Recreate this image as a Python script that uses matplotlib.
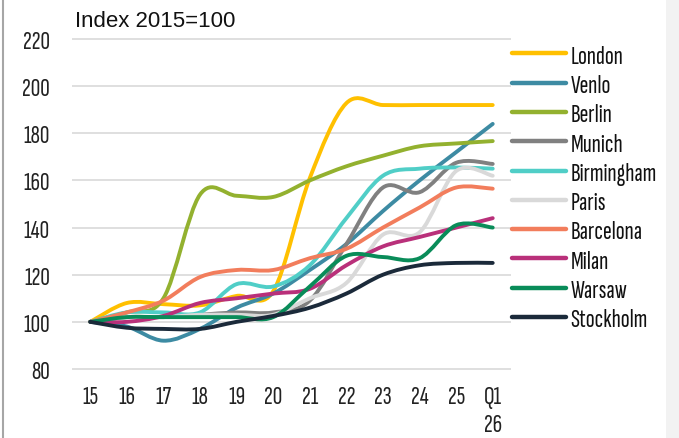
import matplotlib
matplotlib.use('Agg')
import matplotlib.pyplot as plt
from matplotlib.path import Path
from matplotlib.patches import PathPatch, Rectangle
from matplotlib.lines import Line2D

# x categories (2015 .. 2025, Q1 2026)
periods = ['15', '16', '17', '18', '19', '20', '21', '22', '23', '24', '25', 'Q1\n26']

# index values, 2015 = 100
london     = [100, 108, 107.5, 107, 111, 113, 161, 192.8, 192, 192, 192, 192]
venlo      = [100, 98, 92, 97, 106, 112, 122, 133, 147, 160, 172, 184]
berlin     = [100, 104, 110, 154, 153.5, 153, 160, 166, 170.5, 174.5, 175.7, 176.7]
munich     = [100, 102, 102, 103, 104, 104, 109, 133, 157, 155, 167.5, 167]
birmingham = [100, 104, 104, 104, 116, 115, 124, 144, 162, 165, 165.5, 165]
paris      = [100, 102, 102, 103, 103, 103, 110, 116.5, 137, 138, 164, 162]
barcelona  = [100, 104, 109, 119, 122, 122, 127, 131, 140, 148.5, 157, 156.5]
milan      = [100, 100, 102.5, 108, 110, 112, 114, 124, 132, 136, 140, 144]
warsaw     = [100, 102, 102, 102, 102, 102, 115, 128, 127.5, 127, 141, 140]
stockholm  = [100, 97.5, 97, 97, 100, 102.5, 106, 112, 120, 124, 125, 125]

names = ['London', 'Venlo', 'Berlin', 'Munich', 'Birmingham', 'Paris',
         'Barcelona', 'Milan', 'Warsaw', 'Stockholm']
series = [london, venlo, berlin, munich, birmingham, paris,
          barcelona, milan, warsaw, stockholm]
colors = ['#FFC000', '#3D8BA3', '#93B12F', '#808080', '#50CEC7', '#D9D9D9',
          '#F27D5C', '#B9307A', '#098C59', '#1B2A3A']

narrow = ['Sofia Sans Extra Condensed', 'Pathway Gothic One', 'DejaVu Sans']
plain = ['Arimo', 'Liberation Sans', 'DejaVu Sans']
FS = 19


def smooth_path(xs, ys):
  # excel-like smoothed line: cubic bezier through the points (catmull-rom)
  pts = list(zip(xs, ys))
  n = len(pts)
  verts = [pts[0]]
  codes = [Path.MOVETO]
  for i in range(n - 1):
    p0 = pts[i - 1] if i > 0 else pts[i]
    p1 = pts[i]
    p2 = pts[i + 1]
    p3 = pts[i + 2] if i + 2 < n else pts[i + 1]
    c1 = (p1[0] + (p2[0] - p0[0]) / 6.0, p1[1] + (p2[1] - p0[1]) / 6.0)
    c2 = (p2[0] - (p3[0] - p1[0]) / 6.0, p2[1] - (p3[1] - p1[1]) / 6.0)
    verts += [c1, c2, p2]
    codes += [Path.CURVE4] * 3
  return Path(verts, codes)


fig = plt.figure(figsize=(6.79, 4.39), dpi=100)
ax = fig.add_axes([0.106, 0.1465, 0.6466, 0.773])

xs = list(range(len(periods)))
handles = []
for name, vals, col in zip(names, series, colors):
  patch = PathPatch(smooth_path(xs, vals), fill=False, edgecolor=col, lw=2.8,
                    capstyle='round', joinstyle='round', zorder=3)
  ax.add_patch(patch)
  handles.append(Line2D([], [], color=col, lw=3.2, solid_capstyle='round', label=name))

ax.set_xlim(-0.5, 11.5)
ax.set_ylim(78, 222)
ax.set_yticks(range(80, 221, 20))
ax.set_xticks(xs)
ax.set_xticklabels(periods, family=narrow, fontsize=FS, weight=300, linespacing=1.3, va='top')
ax.set_yticklabels([str(v) for v in range(80, 221, 20)], family=narrow, fontsize=FS, weight=300)
ax.tick_params(length=0, colors='#222222')
ax.tick_params(axis='y', pad=16)
ax.tick_params(axis='x', pad=8)
ax.yaxis.grid(True, color='#D9D9D9', lw=1.2)
ax.set_axisbelow(True)
for s in ax.spines.values():
  s.set_visible(False)

fig.text(0.11, 0.9385, 'Index 2015=100', family=plain,
         fontsize=16, color='#111111', va='baseline')

leg = fig.legend(handles=handles, loc='upper left', bbox_to_anchor=(0.754, 0.897),
                 bbox_transform=fig.transFigure, frameon=False, borderpad=0,
                 borderaxespad=0, handlelength=2.05, handletextpad=0.18,
                 labelspacing=0.22, prop={'family': narrow, 'size': FS, 'weight': 300})
for t in leg.get_texts():
  t.set_color('#111111')

# grey strip on the right and thin frame line on the left
fig.patches.append(Rectangle((666 / 679.0, 0), 13 / 679.0, 1, transform=fig.transFigure,
                             facecolor='#F2F2F2', edgecolor='none', zorder=0))
fig.lines.append(Line2D([3 / 679.0, 3 / 679.0], [0, 1], transform=fig.transFigure,
                        color='#A6A6A6', lw=1.5))

fig.savefig('out.png', dpi=100)
